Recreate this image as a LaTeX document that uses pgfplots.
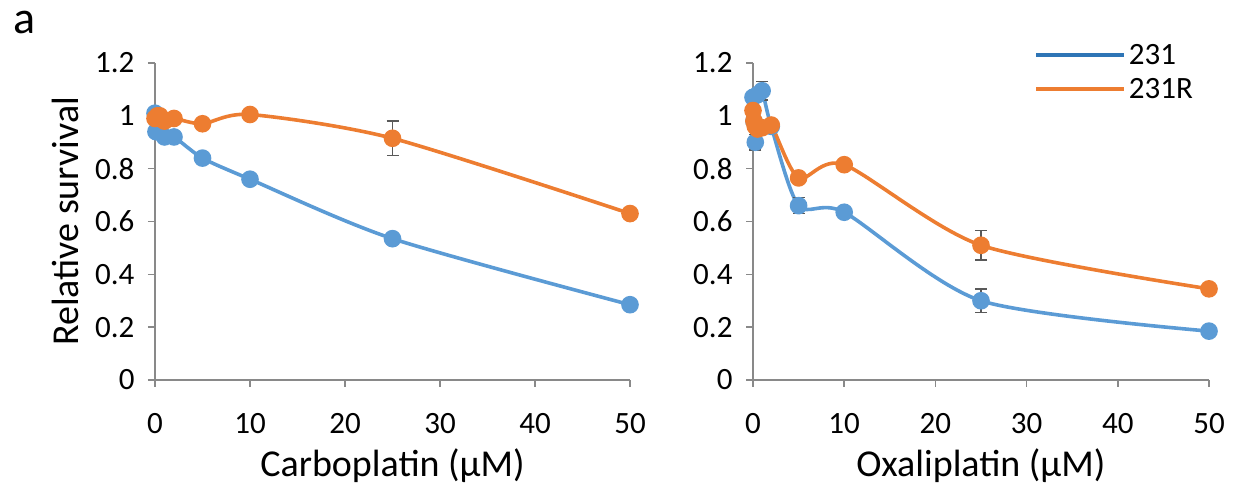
\documentclass[border=0pt]{standalone}
\usepackage{pgfplots}
\pgfplotsset{compat=1.18}
\usepackage{fontspec}
\setmainfont{Carlito}
\definecolor{cblue}{HTML}{5B9BD5}
\definecolor{corange}{HTML}{ED7D31}
\definecolor{legblue}{HTML}{2E75B6}
\definecolor{axgray}{HTML}{898989}
\definecolor{errgray}{HTML}{595959}
\pgfplotsset{
  myaxis/.style={
    scale only axis, height=317pt,
    axis x line*=bottom, axis y line*=left,
    axis line style={axgray, line width=1.5pt},
    xmin=0, xmax=50, ymin=0, ymax=1.2,
    xtick={0,10,20,30,40,50}, ytick={0,0.2,0.4,0.6,0.8,1,1.2},
    yticklabels={0,0.2,0.4,0.6,0.8,1,1.2},
    tick align=outside, major tick length=7pt,
    tick style={axgray, line width=1.5pt},
    /pgf/number format/assume math mode=true,
    tick label style={font=\fontsize{31}{36}\selectfont},
    label style={font=\fontsize{38}{44}\selectfont},
    xticklabel shift=23pt,
    yticklabel style={xshift=-10pt},
    clip=false,
    every axis plot/.append style={line width=3.6pt, smooth, tension=0.45},
    error bars/error bar style={errgray, line width=1.4pt},
    error bars/error mark options={errgray, line width=1.4pt, mark size=6pt, rotate=90},
  },
}
\begin{document}
\begin{tikzpicture}[x=1pt,y=1pt]
\useasboundingbox (0,0) rectangle (1243,487);
\node[font=\fontsize{46}{50}\selectfont, anchor=center] at (25,464) {a};
% Left panel
\begin{axis}[myaxis, width=475pt, at={(155pt,107pt)}, anchor=south west,
  ylabel={Relative survival}, xlabel={Carboplatin (µM)},
  ylabel style={yshift=10pt}, xlabel style={yshift=-8pt}]
\addplot[cblue, mark=*, mark size=7pt, mark options={fill=cblue, draw=cblue}] coordinates {
(0,1.01) (0.1,0.94) (0.5,0.94) (1,0.92) (2,0.92) (5,0.84) (10,0.76) (25,0.535) (50,0.285)};
\addplot[corange, mark=*, mark size=7pt, mark options={fill=corange, draw=corange},
  error bars/.cd, y dir=both, y explicit] coordinates {
(0,0.99) (0.25,1.0) (0.5,1.0) (1,0.98) (2,0.99) (5,0.97) (10,1.005) (25,0.915) +- (0,0.065) (50,0.63)};
\end{axis}
% Right panel
\begin{axis}[myaxis, width=456pt, at={(753pt,107pt)}, anchor=south west,
  xlabel={Oxaliplatin (µM)}, xlabel style={yshift=-8pt},
  legend style={at={(0.61,1.075)}, anchor=north west, draw=none, fill=none,
    font=\fontsize{31}{36}\selectfont, row sep=6pt,
    nodes={inner sep=3pt}},
  legend cell align=left,
  legend image code/.code={\draw[#1] (0pt,0pt) -- (88pt,0pt);}]
\addplot[forget plot, cblue, mark=*, mark size=7pt, mark options={fill=cblue, draw=cblue},
  error bars/.cd, y dir=both, y explicit] coordinates {
(0,1.07) (0.1,0.98) (0.25,0.90) +- (0,0.03) (0.5,1.08) (1,1.095) +- (0,0.035) (2,0.96) (5,0.66) +- (0,0.03) (10,0.635) (25,0.30) +- (0,0.045) (50,0.185)};
\addplot[forget plot, corange, mark=*, mark size=7pt, mark options={fill=corange, draw=corange},
  error bars/.cd, y dir=both, y explicit] coordinates {
(0,1.02) (0.1,0.98) (0.25,0.96) (0.5,0.95) (1,0.955) (2,0.965) (5,0.765) (10,0.815) (25,0.51) +- (0,0.055) (50,0.345)};
\addlegendimage{legblue, line width=3.6pt}
\addlegendentry{231}
\addlegendimage{corange, line width=3.6pt}
\addlegendentry{231R}
\end{axis}
\end{tikzpicture}
\end{document}
